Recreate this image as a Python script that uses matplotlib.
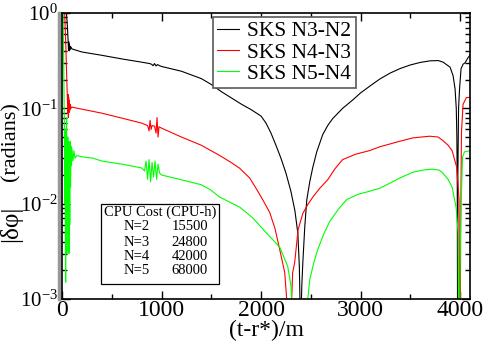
import numpy as np
import matplotlib
matplotlib.use("Agg")
import matplotlib.pyplot as plt
from matplotlib.patches import Rectangle
from matplotlib.ticker import LogLocator, MultipleLocator

plt.rcParams['font.family'] = ['Liberation Serif', 'DejaVu Serif']
plt.rcParams['mathtext.fontset'] = 'custom'
plt.rcParams['mathtext.rm'] = 'Liberation Serif'
plt.rcParams['mathtext.it'] = 'Liberation Serif:italic'

# SKS N3-N2
black_t = [0, 30, 45, 55, 62, 65, 68, 71, 74, 77, 80, 85, 90, 100, 200, 400, 600, 800,
           880, 900, 915, 930, 945, 960, 980, 1000, 1200, 1400, 1500, 1600, 1700, 1800,
           1900, 2000, 2050, 2100, 2150, 2200, 2250, 2300, 2340, 2370, 2385, 2392, 2398,
           2404, 2410, 2420, 2440, 2460, 2490, 2520, 2560, 2620, 2670, 2720, 2820, 2920,
           3000, 3100, 3200, 3300, 3400, 3500, 3600, 3700, 3780, 3830, 3900, 3930, 3950,
           3962, 3968, 3972, 3975, 3978, 3985, 3995, 4010, 4030, 4050, 4080, 4100]
black_v = [3.0, 1.5, 1.0, 0.7, 0.5, 0.42, 0.5, 0.40, 0.47, 0.41, 0.45, 0.42, 0.44, 0.42,
           0.39, 0.36, 0.33, 0.305, 0.295, 0.29, 0.28, 0.295, 0.278, 0.288, 0.28, 0.275,
           0.245, 0.205, 0.178, 0.15, 0.129, 0.111, 0.097, 0.083, 0.07, 0.055, 0.041,
           0.030, 0.021, 0.0135, 0.0085, 0.0049, 0.0022, 0.0009, 0.0001, 0.0008, 0.0014,
           0.0024, 0.0058, 0.011, 0.017, 0.024, 0.035, 0.053, 0.066, 0.078, 0.10, 0.122,
           0.145, 0.173, 0.205, 0.235, 0.262, 0.285, 0.303, 0.315, 0.317, 0.305, 0.27,
           0.22, 0.16, 0.10, 0.05, 0.015, 0.0005, 0.02, 0.1, 0.16, 0.26, 0.29, 0.30,
           0.34, 0.36]

# SKS N4-N3
red_t = [0, 20, 30, 40, 48, 54, 58, 61, 64, 67, 70, 74, 78, 84, 90, 100, 200, 400, 600,
         800, 860, 875, 885, 895, 905, 930, 945, 955, 965, 975, 1000, 1200, 1400, 1585,
         1700, 1786, 1886, 1950, 2017, 2087, 2140, 2188, 2238, 2258, 2283, 2308, 2318,
         2338, 2372, 2420, 2470, 2520, 2590, 2670, 2740, 2820, 2950, 3090, 3193, 3390,
         3527, 3695, 3780, 3826, 3880, 3920, 3967, 3990, 4000, 4006, 4014, 4030, 4064,
         4100]
red_v = [3.0, 1.5, 0.8, 0.4, 0.2, 0.13, 0.09, 0.14, 0.08, 0.13, 0.09, 0.12, 0.095, 0.11,
         0.1, 0.103, 0.098, 0.089, 0.079, 0.07, 0.066, 0.058, 0.075, 0.06, 0.066, 0.065,
         0.055, 0.08, 0.05, 0.064, 0.062, 0.05, 0.041, 0.032, 0.027, 0.0235, 0.0186,
         0.0145, 0.011, 0.0081, 0.0055, 0.0033, 0.0019, 0.0010, 0.0001, 0.0010, 0.0019,
         0.0024, 0.0053, 0.0079, 0.0098, 0.0117, 0.0145, 0.0178, 0.023, 0.029, 0.033,
         0.036, 0.0395, 0.045, 0.049, 0.051, 0.05, 0.046, 0.041, 0.036, 0.024, 0.011,
         0.0001, 0.005, 0.055, 0.11, 0.13, 0.13]

# SKS N5-N4
green_t = [0, 8, 15, 20, 25, 28, 31, 34, 37, 40, 43, 46, 49, 52, 55, 58, 62, 66, 70, 74,
           78, 82, 86, 90, 95, 100, 110, 120, 130, 150, 200, 310, 400, 600, 800, 830, 845,
           860, 875, 890, 905, 920, 935, 950, 965, 980, 1000, 1200, 1400, 1500, 1585,
           1786, 1916, 2057, 2188, 2268, 2300, 2318, 2340, 2390, 2460, 2490, 2530, 2570,
           2630, 2690, 2780, 2860, 2970, 3090, 3193, 3300, 3390, 3527, 3640, 3725, 3790,
           3826, 3880, 3920, 3960, 3980, 3990, 4000, 4007, 4025, 4045, 4100]
green_v = [3.0, 1.2, 0.5, 0.15, 0.05, 0.01, 0.06, 0.004, 0.0015, 0.05, 0.006, 0.08,
           0.003, 0.04, 0.008, 0.05, 0.01, 0.045, 0.003, 0.04, 0.006, 0.045, 0.015, 0.04,
           0.025, 0.038, 0.028, 0.036, 0.03, 0.032, 0.031, 0.030, 0.028, 0.026, 0.0237,
           0.022, 0.028, 0.018, 0.029, 0.017, 0.027, 0.019, 0.028, 0.018, 0.026, 0.021,
           0.020, 0.0178, 0.0158, 0.0138, 0.0117, 0.0092, 0.0071, 0.0049, 0.0035, 0.0022,
           0.0014, 0.0006, 0.0001, 0.0001, 0.0008, 0.0016, 0.0024, 0.0033, 0.0048, 0.0065,
           0.0088, 0.011, 0.0125, 0.0135, 0.0145, 0.0165, 0.0185, 0.0214, 0.0226, 0.023,
           0.0225, 0.021, 0.018, 0.0149, 0.0092, 0.005, 0.0001, 0.002, 0.0072, 0.031,
           0.035, 0.036]

labels = ["SKS N3-N2", "SKS N4-N3", "SKS N5-N4"]
colors = ["black", "red", "#00ff00"]

cpu_n = [2, 3, 4, 5]
cpu_cost = [15500, 24800, 42000, 68000]

fig = plt.figure(figsize=(4.85, 3.46), dpi=100)
ax = fig.add_axes([62 / 485, 1 - 299 / 346, 408 / 485, 286 / 346])

for t, v, c, lab in zip([black_t, red_t, green_t], [black_v, red_v, green_v], colors, labels):
    ax.plot(t, v, color=c, lw=0.8, label=lab)

ax.set_yscale('log')
ax.set_xlim(0, 4100)
ax.set_ylim(1e-3, 1)
ax.xaxis.set_major_locator(MultipleLocator(1000))
ax.xaxis.set_minor_locator(MultipleLocator(500))
ax.yaxis.set_major_locator(LogLocator(base=10))
ax.yaxis.set_minor_locator(LogLocator(base=10, subs=np.arange(2, 10)))
ax.tick_params(which='both', direction='in', top=True, right=True, width=1.0)
ax.tick_params(which='major', length=6)
ax.tick_params(which='minor', length=3.5)
ax.tick_params(axis='x', labelsize=17, pad=1)
ax.tick_params(axis='y', labelsize=15, pad=3)
for s in ax.spines.values():
    s.set_linewidth(1.2)

# gray strip along the left edge
ax.axvline(-30, color='0.6', lw=2.5, clip_on=False)

ax.set_xlabel("(t-r*)/m", fontsize=17, labelpad=-1)
fig.text(11 / 485, 1 - 142 / 346, "(radians)", rotation=90, fontsize=16,
         ha='center', va='center')
fig.text(11 / 485, 1 - 224 / 346, "|δφ|", rotation=90, fontsize=18,
         ha='center', va='center')

leg = ax.legend(loc='upper left', bbox_to_anchor=(0.37, 0.986), fontsize=15.5,
                handlelength=1.0, handletextpad=0.4, labelspacing=0.05, borderpad=0.2,
                borderaxespad=0, fancybox=False, framealpha=1)
leg.get_frame().set_edgecolor('0.35')
leg.get_frame().set_linewidth(1.2)


def fx(px):
    return (px - 62) / 408


def fy(py):
    return (299 - py) / 286


ax.add_patch(Rectangle((fx(101), fy(284)), fx(219) - fx(101), fy(204) - fy(284),
                       transform=ax.transAxes, fill=True, facecolor='white',
                       edgecolor='black', lw=0.9, zorder=5))
ax.text(fx(160), fy(212), "CPU Cost (CPU-h)", transform=ax.transAxes, fontsize=10.5,
        ha='center', va='center', zorder=6)
row_y = [227, 242, 256, 271]
for n, cost, py in zip(cpu_n, cpu_cost, row_y):
    ax.text(fx(137), fy(py), "N=%d" % n, transform=ax.transAxes, fontsize=10.5,
            ha='center', va='center', zorder=6)
    ax.text(fx(190), fy(py), "%d" % cost, transform=ax.transAxes, fontsize=10.5,
            ha='center', va='center', zorder=6)

fig.savefig("out.png", dpi=100)
